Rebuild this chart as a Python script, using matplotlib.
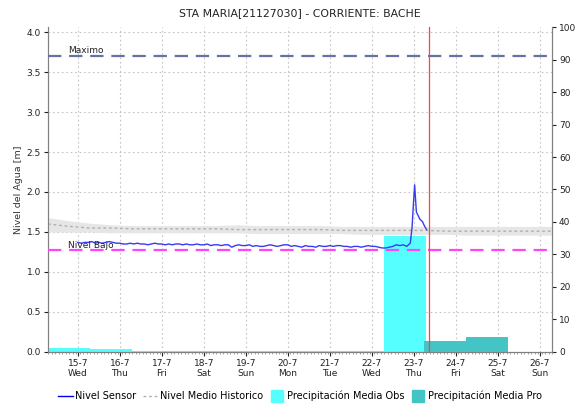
import numpy as np
import matplotlib.pyplot as plt
import matplotlib.dates as mdates
import matplotlib.transforms as mtransforms
from matplotlib.lines import Line2D
from datetime import datetime, timedelta

titulo = 'STA MARIA[21127030] - CORRIENTE: BACHE'
inicio = datetime(2020, 7, 14, 7)
fin = datetime(2020, 7, 26, 7)
ahora = datetime(2020, 7, 23, 8, 30)

nivel_maximo = 3.70
nivel_bajo = 1.27

# nivel sensor: horas desde el 15-7 00:00
sensor_horas = list(range(0, 190, 2)) + [190, 191, 192, 192.5, 193.5, 195.5, 197, 198, 199.3]
sensor_nivel = [
    1.37, 1.36, 1.37, 1.37, 1.38, 1.36, 1.37, 1.36, 1.37, 1.38, 1.37, 1.36,
    1.36, 1.35, 1.35, 1.36, 1.35, 1.36, 1.35, 1.35, 1.34, 1.35, 1.36, 1.35,
    1.35, 1.34, 1.35, 1.34, 1.35, 1.35, 1.34, 1.35, 1.34, 1.34, 1.35, 1.34,
    1.34, 1.35, 1.33, 1.34, 1.34, 1.33, 1.34, 1.34, 1.31, 1.33, 1.34, 1.33,
    1.33, 1.34, 1.32, 1.33, 1.32, 1.32, 1.33, 1.34, 1.33, 1.32, 1.33, 1.34,
    1.34, 1.32, 1.33, 1.32, 1.31, 1.33, 1.32, 1.32, 1.31, 1.33, 1.32, 1.32,
    1.33, 1.32, 1.33, 1.33, 1.32, 1.32, 1.31, 1.32, 1.32, 1.31, 1.32, 1.33,
    1.32, 1.32, 1.31, 1.30, 1.30, 1.31, 1.32, 1.34, 1.33, 1.34, 1.32,
    1.36, 1.55, 1.92, 2.09, 1.75, 1.66, 1.63, 1.58, 1.53,
]

# nivel medio historico y banda (cada 12 h desde el inicio)
hist_medio = [1.60, 1.57, 1.55, 1.55, 1.54, 1.54, 1.54, 1.54, 1.54, 1.53, 1.53, 1.53, 1.53,
              1.53, 1.52, 1.52, 1.52, 1.52, 1.52, 1.51, 1.51, 1.51, 1.51, 1.51, 1.51]
hist_min = [1.50, 1.50, 1.50, 1.49, 1.49, 1.49, 1.49, 1.49, 1.49, 1.49, 1.48, 1.48, 1.48,
            1.48, 1.48, 1.47, 1.47, 1.47, 1.47, 1.47, 1.46, 1.46, 1.46, 1.46, 1.46]
hist_max = [1.68, 1.64, 1.61, 1.59, 1.58, 1.58, 1.58, 1.58, 1.58, 1.59, 1.58, 1.58, 1.58,
            1.58, 1.57, 1.57, 1.57, 1.57, 1.57, 1.57, 1.57, 1.57, 1.57, 1.57, 1.57]

# precipitacion diaria (mm), acumulado de 07:00 a 07:00
obs_dias = [datetime(2020, 7, d, 7) for d in range(14, 23)]
obs_mm = [1.3, 0.8, 0.3, 0.3, 0.3, 0.2, 0.2, 0.2, 35.7]
pro_dias = [datetime(2020, 7, 23, 6), datetime(2020, 7, 24, 6)]
pro_mm = [3.5, 4.7]

dias = [datetime(2020, 7, d) for d in range(15, 27)]
dias_txt = ['15-7\nWed', '16-7\nThu', '17-7\nFri', '18-7\nSat', '19-7\nSun', '20-7\nMon',
            '21-7\nTue', '22-7\nWed', '23-7\nThu', '24-7\nFri', '25-7\nSat', '26-7\nSun']

niveles_ticks = np.arange(0, 4.01, 0.5)
lluvia_ticks = np.arange(0, 101, 10)

plt.rcParams['font.family'] = ['DejaVu Sans']
fig = plt.figure(figsize=(5.77, 4.05), dpi=100)
ax_p = fig.add_axes([0.0832, 0.1309, 0.8735, 0.8024])
ax = ax_p.twinx()
ax.patch.set_visible(False)

t0 = datetime(2020, 7, 15)
t_sensor = [t0 + timedelta(hours=h) for h in sensor_horas]
t_hist = [inicio + timedelta(hours=12 * i) for i in range(len(hist_medio))]

# eje de precipitacion (al fondo, a la derecha)
ax_p.set_xlim(inicio, fin)
ax_p.set_ylim(0, 100)
ax.set_ylim(0, 4.0625)
ax_p.xaxis.grid(True, color='#c4c4c4', linestyle=(0, (1.5, 2.5)), linewidth=0.8, zorder=0)
rejilla = mtransforms.blended_transform_factory(ax_p.transAxes, ax.transData)
for y in niveles_ticks[1:]:
    ax_p.plot([0, 1], [y, y], transform=rejilla, color='#c4c4c4',
              linestyle=(0, (1.5, 2.5)), linewidth=0.8, zorder=0)
ax_p.set_axisbelow(True)
ax_p.bar(obs_dias, obs_mm, width=1.0, align='edge', color='#55ffff', zorder=2)
ax_p.bar(pro_dias, pro_mm, width=1.0, align='edge', color='#44c4c4', zorder=3)

# eje de nivel (encima, a la izquierda)
ax.yaxis.tick_left()
ax.yaxis.set_label_position('left')
ax_p.yaxis.tick_right()
ax.fill_between(t_hist, hist_min, hist_max, color='#e6e6e6', linewidth=0, zorder=1)
ax.plot(t_hist, hist_medio, color='#b0b0b0', linestyle=(0, (2, 2)), linewidth=1.0, zorder=2)
ax.plot(t_sensor, sensor_nivel, color='#3a3af0', linewidth=1.0, zorder=3)
ax.axhline(nivel_maximo, color='#6672a4', linestyle=(0, (6, 3.5)), linewidth=1.6, zorder=4)
ax.axhline(nivel_bajo, color='#ff44ff', linestyle=(0, (6, 3.5)), linewidth=1.6, zorder=4)
ax.axvline(ahora, color='#ff4040', linewidth=0.9, zorder=5)
ax.text(0.04, nivel_maximo + 0.01, 'Maximo', transform=ax.get_yaxis_transform(),
        fontsize=6.5, va='bottom', color='#222222')
ax.text(0.04, nivel_bajo + 0.01, 'Nivel Bajo', transform=ax.get_yaxis_transform(),
        fontsize=6.5, va='bottom', color='#222222')

ax.set_yticks(niveles_ticks)
ax.yaxis.set_major_formatter(plt.FormatStrFormatter('%.1f'))
ax_p.set_yticks(lluvia_ticks)
ax_p.set_xticks(dias)
ax_p.set_xticklabels(dias_txt)
ax_p.xaxis.set_minor_locator(mdates.HourLocator(interval=2))
ax.set_ylabel('Nivel del Agua [m]', fontsize=6.8, color='#333333', labelpad=3)
ax.set_title(titulo, fontsize=7.8, color='#222222', pad=8)

for a in (ax, ax_p):
    a.tick_params(labelsize=6.5, colors='#222222', length=3, width=0.8, pad=2)
    a.tick_params(which='minor', length=1.5, width=0.5, colors='#808080')
    a.spines['top'].set_visible(False)
    for s in ('left', 'right', 'bottom'):
        a.spines[s].set_color('#808080')

handles = [
    Line2D([], [], color='#0000ff', linewidth=1.0),
    Line2D([], [], color='#b0b0b0', linestyle=(0, (2, 2)), linewidth=1.0),
    Line2D([], [], color='#55ffff', marker='s', markersize=8, linestyle='none'),
    Line2D([], [], color='#44c4c4', marker='s', markersize=8, linestyle='none'),
]
labels = ['Nivel Sensor', 'Nivel Medio Historico', 'Precipitación Media Obs', 'Precipitación Media Pro']
fig.legend(handles, labels, loc='center', bbox_to_anchor=(0.52, 0.022), ncol=4, frameon=False,
           fontsize=7, handlelength=1.5, handletextpad=0.25, columnspacing=0.7)

fig.savefig('out.png', dpi=100)
